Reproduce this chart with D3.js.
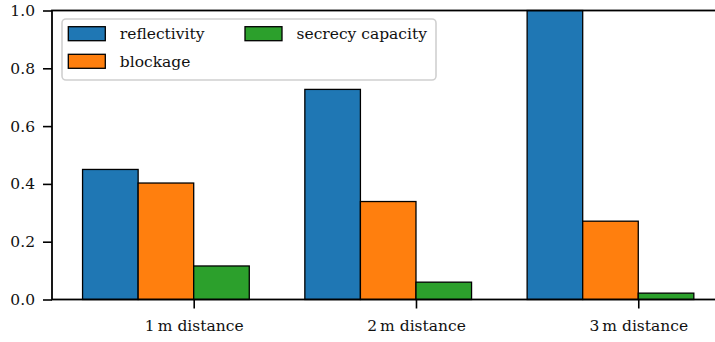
<!DOCTYPE html>
<html>
<head>
<meta charset="utf-8">
<script src="https://cdn.jsdelivr.net/npm/d3@7"></script>
<style>
  html, body { margin: 0; padding: 0; background: #fff; }
  svg { display: block; }
  text { font-family: "DejaVu Serif", serif; fill: #111; }
</style>
</head>
<body>
<svg id="chart" width="715" height="342"></svg>
<script>
// Groups along the x axis
const categories = ["1\u2009m distance", "2\u2009m distance", "3\u2009m distance"];
// Series values per group
const reflectivity = [0.450, 0.727, 1.000];
const blockage = [0.403, 0.339, 0.271];
const secrecyCapacity = [0.116, 0.060, 0.022];
// Y tick values
const yTicks = [0.0, 0.2, 0.4, 0.6, 0.8, 1.0];

const seriesNames = ["reflectivity", "blockage", "secrecy capacity"];
const seriesValues = [reflectivity, blockage, secrecyCapacity];
const colors = ["#1f77b4", "#ff7f0e", "#2ca02c"];
const barWidth = 0.25;
const offsets = [-0.5, -0.25, 0];

const svg = d3.select("#chart");
const plotLeft = 52, plotTop = 10.5, plotBottom = 299.5;
const fontSize = 15.5;

// x: groups at 0,1,2 with 5% margins around the bar extents
const xmin = -0.5, xmax = 2.25, pad = (xmax - xmin) * 0.05;
const x = d3.scaleLinear().domain([xmin - pad, xmax + pad]).range([plotLeft, 724.4]);
const y = d3.scaleLinear().domain([0, 1]).range([plotBottom, plotTop]);
const plotRight = x.range()[1];

// bars
seriesValues.forEach((vals, s) => {
  svg.append("g").selectAll("rect").data(vals).join("rect")
    .attr("x", (d, i) => x(i + offsets[s]))
    .attr("width", (d, i) => x(i + offsets[s] + barWidth) - x(i + offsets[s]))
    .attr("y", d => y(d))
    .attr("height", d => y(0) - y(d))
    .attr("fill", colors[s])
    .attr("stroke", "#000")
    .attr("stroke-width", 1.3);
});

// y axis
const yAxis = d3.axisLeft(y).tickValues(yTicks).tickFormat(d3.format(".1f"))
  .tickSize(9).tickPadding(8);
const gy = svg.append("g").attr("transform", `translate(${plotLeft},0)`).call(yAxis);
gy.select(".domain").remove();
gy.selectAll(".tick line").attr("stroke", "#000").attr("stroke-width", 1.6);
gy.selectAll(".tick text").attr("font-size", fontSize).attr("font-family", "DejaVu Serif").attr("fill", "#111");

// x axis
const xAxis = d3.axisBottom(x).tickValues(d3.range(categories.length))
  .tickFormat(i => categories[i]).tickSize(9).tickPadding(11);
const gx = svg.append("g").attr("transform", `translate(0,${plotBottom})`).call(xAxis);
gx.select(".domain").remove();
gx.selectAll(".tick line").attr("stroke", "#000").attr("stroke-width", 1.6);
gx.selectAll(".tick text").attr("font-size", fontSize).attr("font-family", "DejaVu Serif").attr("fill", "#111");

// frame
svg.append("rect")
  .attr("x", plotLeft).attr("y", plotTop)
  .attr("width", plotRight - plotLeft).attr("height", plotBottom - plotTop)
  .attr("fill", "none").attr("stroke", "#000").attr("stroke-width", 1.8);

// legend
const lg = svg.append("g");
lg.append("rect")
  .attr("x", 62).attr("y", 19).attr("width", 374).attr("height", 61)
  .attr("rx", 4).attr("ry", 4)
  .attr("fill", "#fff").attr("fill-opacity", 0.8)
  .attr("stroke", "#d0d0d0").attr("stroke-width", 1.6);
const slots = [
  { px: 68.3, cy: 33.7 },
  { px: 68.3, cy: 61.3 },
  { px: 245, cy: 33.7 }
];
seriesNames.forEach((name, s) => {
  const p = slots[s];
  lg.append("rect")
    .attr("x", p.px).attr("y", p.cy - 7).attr("width", 37).attr("height", 14)
    .attr("fill", colors[s]).attr("stroke", "#000").attr("stroke-width", 1.3);
  lg.append("text")
    .attr("x", p.px + 51.5).attr("y", p.cy)
    .attr("dy", "0.35em")
    .attr("font-size", fontSize)
    .text(name);
});
</script>
</body>
</html>
